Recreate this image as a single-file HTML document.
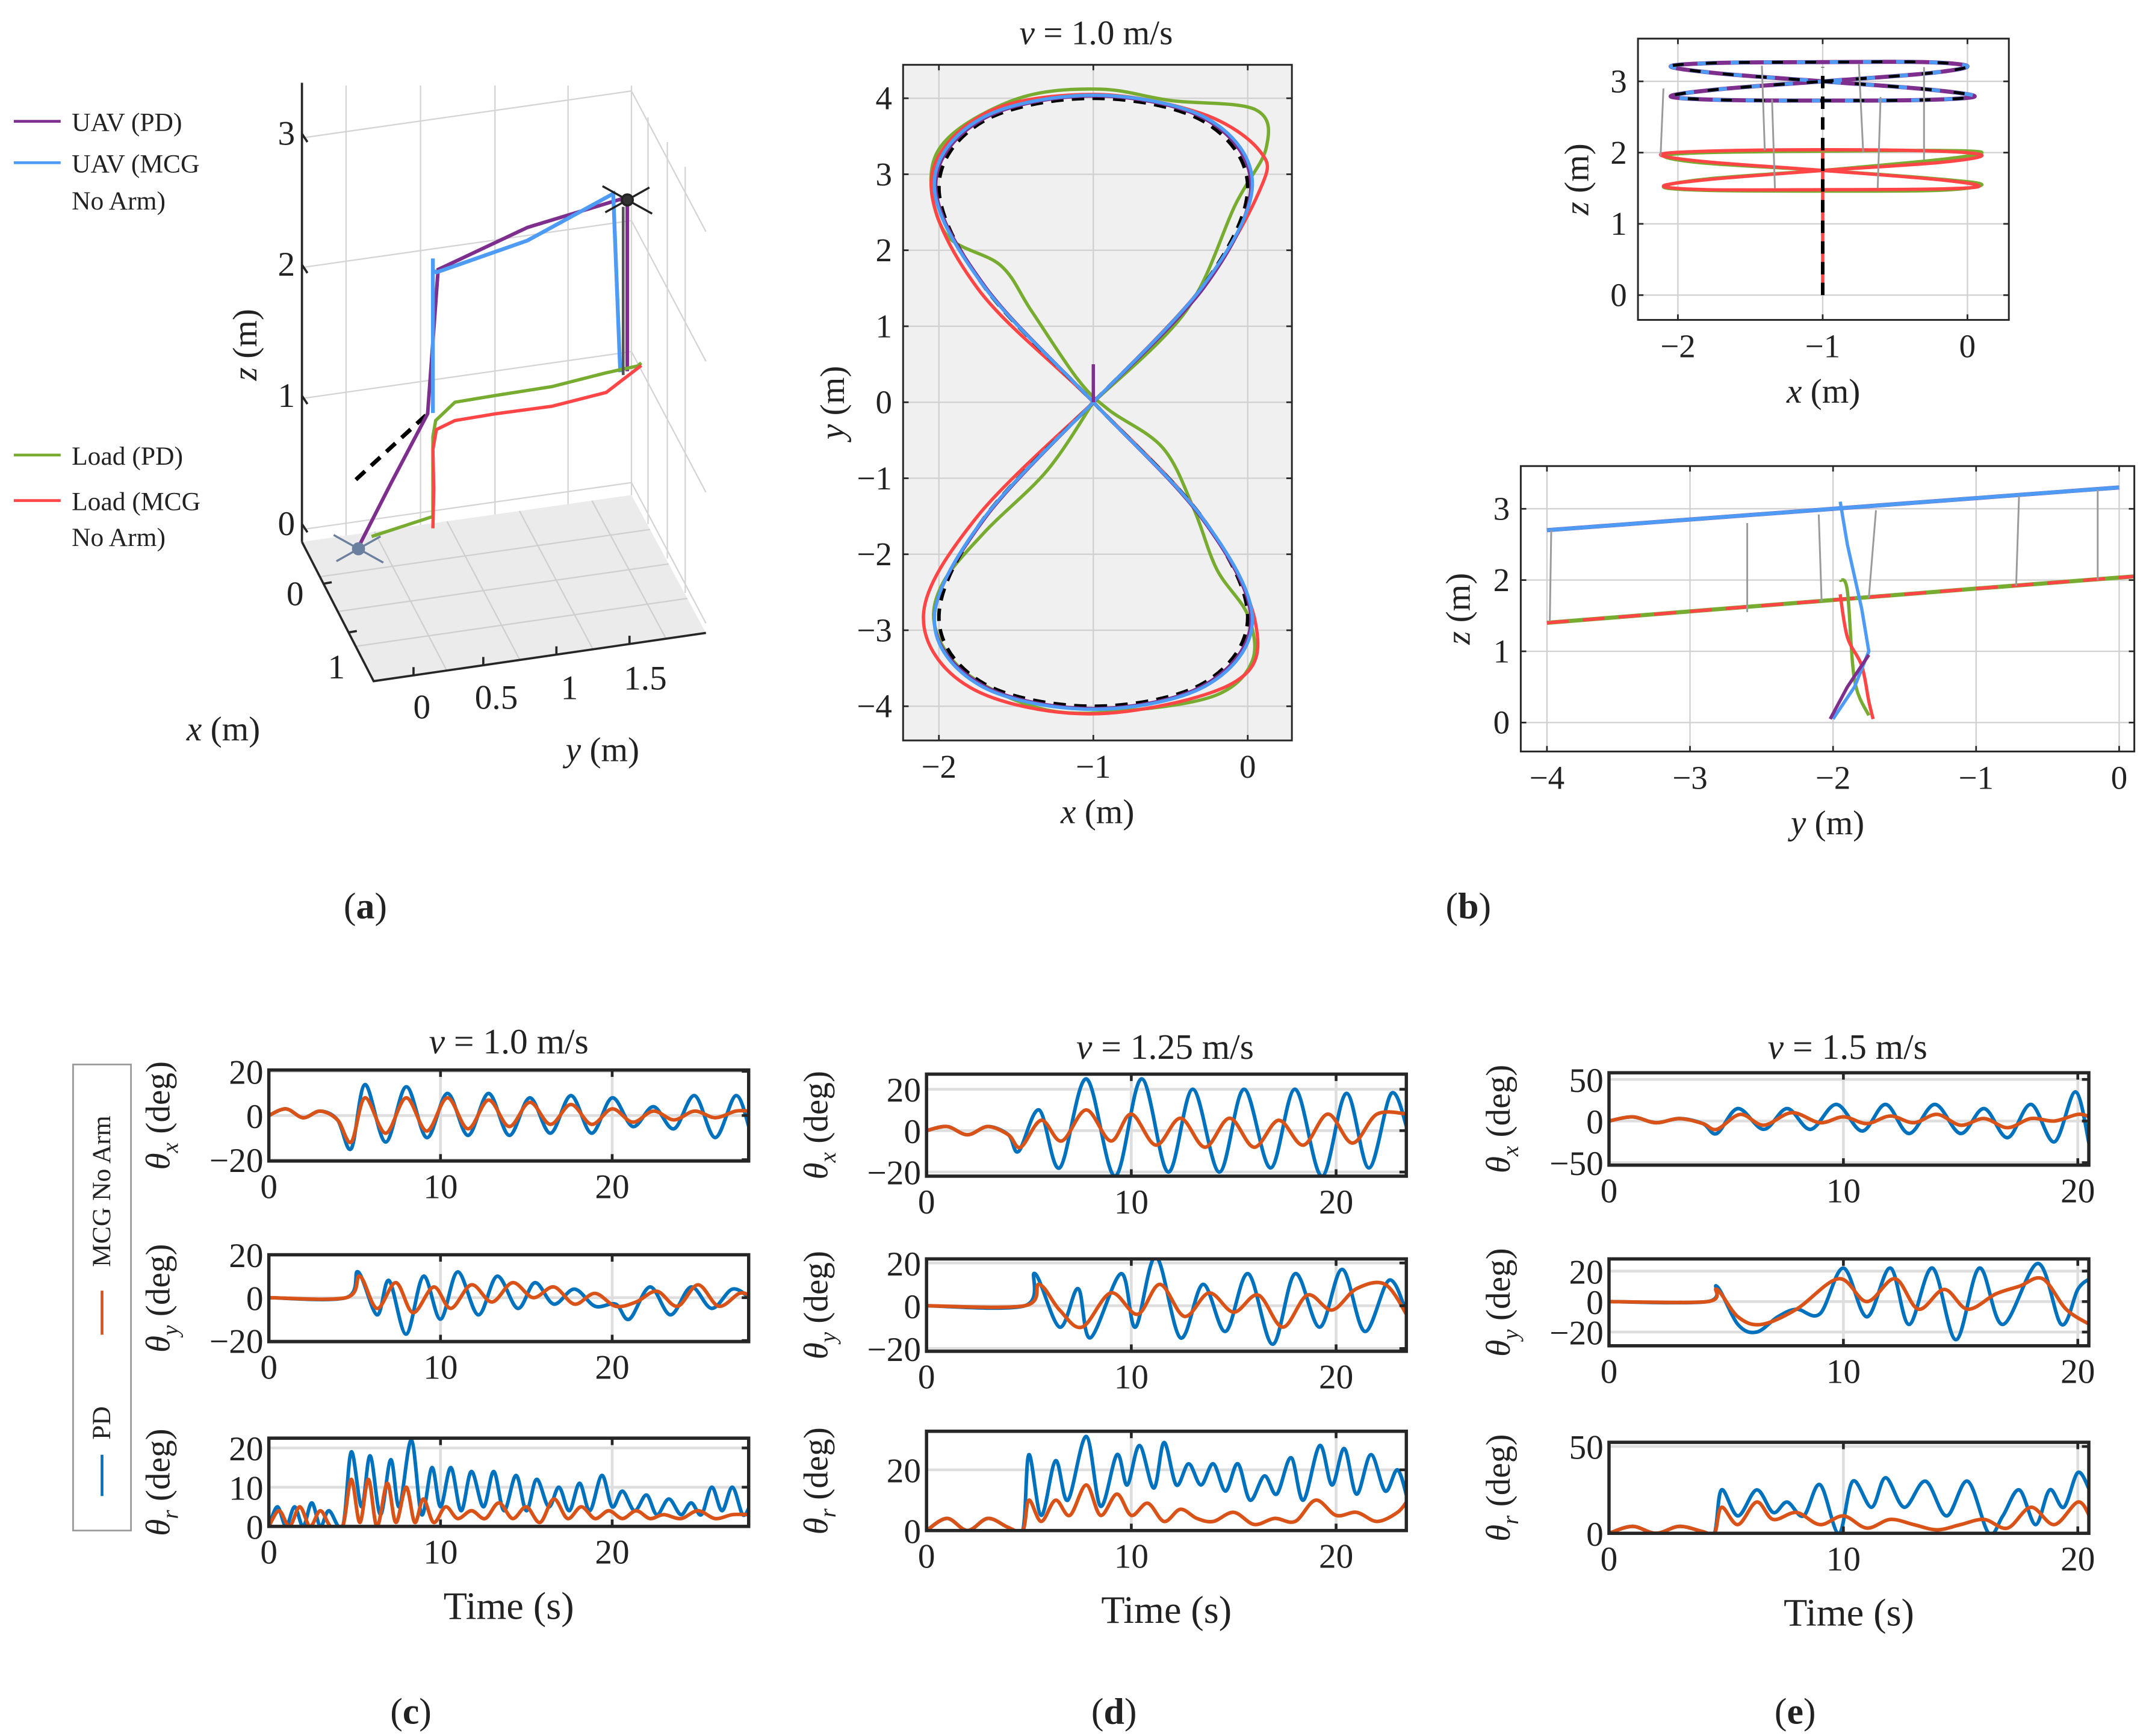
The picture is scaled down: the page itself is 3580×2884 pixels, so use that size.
<!DOCTYPE html>
<html><head><meta charset="utf-8">
<style>
html,body{margin:0;padding:0;background:#fff;}
svg{display:block;}
text{font-family:"Liberation Serif","DejaVu Serif",serif;fill:#222;}
</style></head>
<body>
<svg id="fig" xmlns="http://www.w3.org/2000/svg" width="3580" height="2884" viewBox="0 0 1563 1259" preserveAspectRatio="none">
<rect x="0" y="0" width="1563" height="1259" fill="#fff"/>
</svg>
<script>
// ---------- (b) x-y view data ----------
const refX=[-1,-0.29,0,-0.29,-1,-1.71,-2,-1.71,-1,-0.29,0,-0.29,-1,-1.71,-2,-1.71,-1];
const refY=[0,1.53,2.83,3.70,4,3.70,2.83,1.53,0,-1.53,-2.83,-3.70,-4,-3.70,-2.83,-1.53,0];
const uavPdX=[-1,-0.28,0.02,-0.27,-1,-1.72,-2.02,-1.70,-1,-0.30,0.02,-0.28,-1,-1.72,-2.03,-1.70,-1];
const uavPdY=[0,1.52,2.84,3.72,4.03,3.72,2.84,1.52,0,-1.52,-2.84,-3.72,-4.03,-3.72,-2.84,-1.52,0];
const uavMcgX=[-1,-0.29,0.03,-0.26,-1,-1.73,-2.03,-1.71,-1,-0.29,0.03,-0.27,-1,-1.73,-2.03,-1.71,-1];
const uavMcgY=[0,1.53,2.85,3.73,4.04,3.73,2.85,1.53,0,-1.53,-2.85,-3.73,-4.04,-3.73,-2.85,-1.53,0];
const loadPdX=[-1,-0.4,-0.08,0.12,0.05,-0.5,-0.95,-1.45,-1.9,-2.05,-1.95,-1.6,-1.4,-1.1,-0.9,-0.55,-0.35,-0.2,0.0,0.03,-0.2,-0.75,-1.3,-1.8,-2.02,-1.98,-1.7,-1.3,-1.0];
const loadPdY=[0,1.2,2.6,3.35,3.85,3.97,4.12,4.02,3.55,3.0,2.2,1.8,1.2,0.3,-0.1,-0.6,-1.4,-2.2,-2.8,-3.4,-3.85,-4.05,-4.05,-3.6,-3.0,-2.4,-1.7,-0.9,0];
const loadMcgX=[-1,-0.3,0.08,0.08,-0.3,-1,-1.7,-2.05,-1.75,-1,-0.3,0.05,-0.1,-1,-1.8,-2.1,-1.75,-1];
const loadMcgY=[0,1.5,2.8,3.3,3.8,4.05,3.8,2.9,1.5,0,-1.5,-2.9,-3.7,-4.1,-3.75,-2.8,-1.5,0];
const xyTicksX=[-2,-1,0];
const xyTicksY=[-4,-3,-2,-1,0,1,2,3,4];
// ---------- (b) x-z view ----------
const xzUavX=[-1,-0.29,0,-0.29,-1,-1.71,-2.05,-1.71,-1,-0.29,0.05,-0.29,-1,-1.71,-2.05,-1.71,-1];
const xzUavZ=[3.0,3.11,3.21,3.27,3.27,3.26,3.21,3.11,3.0,2.89,2.79,2.74,2.73,2.74,2.79,2.89,3.0];
const xzLoadPdX=[-1,-0.2,0.1,-0.2,-1,-1.8,-2.1,-1.8,-1,-0.2,0.1,-0.2,-1,-1.8,-2.1,-1.8,-1];
const xzLoadPdZ=[1.75,1.9,2.0,2.03,2.02,2.0,1.95,1.85,1.75,1.63,1.55,1.47,1.46,1.47,1.52,1.63,1.75];
const xzLoadMcgX=[-1,-0.2,0.1,-0.2,-1,-1.8,-2.12,-1.8,-1,-0.2,0.08,-0.2,-1,-1.8,-2.1,-1.8,-1];
const xzLoadMcgZ=[1.75,1.86,1.96,2.02,2.04,2.02,1.97,1.87,1.75,1.62,1.53,1.49,1.48,1.48,1.53,1.62,1.75];
const xzTicksX=[-2,-1,0];
const xzTicksZ=[0,1,2,3];
// ---------- (b) y-z view ----------
const yzUavY=[-4,-3,-2,-1,0];
const yzUavZ=[2.7,2.85,3.0,3.15,3.3];
const yzLoadY=[-4,-3,-2,-1,0.1];
const yzLoadZ=[1.4,1.56,1.72,1.88,2.05];
const yzBlueVY=[-1.95,-1.9,-1.8,-1.75,-1.85,-2.0];
const yzBlueVZ=[3.1,2.5,1.6,1.0,0.5,0.05];
const yzPurpleVY=[-1.75,-1.9,-2.02];
const yzPurpleVZ=[0.95,0.5,0.05];
const yzRedVY=[-1.95,-1.9,-1.8,-1.75,-1.72];
const yzRedVZ=[1.8,1.2,0.8,0.3,0.05];
const yzGreenVY=[-1.95,-1.9,-1.85,-1.75];
const yzGreenVZ=[2.0,1.85,0.6,0.1];
const yzTicksY=[-4,-3,-2,-1,0];
const yzTicksZ=[0,1,2,3];
// ---------- (c) v=1.0 ----------
const cXt_pd=[0,1,2,3,4,4.8,5.6,6.8,8,9.2,10.4,11.6,12.8,14,15.2,16.4,17.6,18.8,20,21.2,22.4,23.6,24.8,26,27.2,28];
const cXv_pd=[0,3,-1,2,-2,-15,14,-12,13,-10,10,-9,10,-9,8,-8,9,-8,8,-5,4,-6,9,-10,9,-6];
const cXt_mcg=[0,1,2,3,4,4.8,5.6,6.8,8,9.2,10.4,11.6,12.8,14,15.2,16.4,17.6,18.8,20,21.2,22.4,23.6,24.8,26,27.2,28];
const cXv_mcg=[0,3,-1,2,-2,-12,8,-8,8,-7,8,-6,7,-5,6,-4,5,-4,3,-3,2,-2,2,-1,2,2];
const cYt_pd=[0,4.5,5.2,6.3,7,8,9,10,11,12.2,13.3,14.5,15.5,16.6,17.8,19,20.2,21,22.2,23.4,24.6,25.8,27,28];
const cYv_pd=[0,0,12,-8,8,-17,10,-10,12,-8,10,-5,7,-3,4,-4,-3,-10,5,-8,5,-5,4,0];
const cYt_mcg=[0,4.5,5.3,6.3,7.4,8.4,9.6,10.6,11.8,13,14.2,15.4,16.6,17.8,19,20.2,21.4,22.6,23.8,25,26.2,27.4,28];
const cYv_mcg=[0,0,10,-5,7,-7,5,-5,6,-2,7,0,5,-3,2,-4,-2,3,-4,6,-4,2,1];
const cRt_pd=[0,0.5,1,1.5,2,2.5,3,3.5,4.3,4.8,5.4,5.9,6.5,7.1,7.6,8.3,8.9,9.5,10,10.6,11.2,11.8,12.5,13.1,13.7,14.4,15,15.6,16.3,16.9,17.5,18.1,18.7,19.4,20,20.6,21.3,22,22.6,23.3,24,24.6,25.2,25.8,26.4,27,27.6,28];
const cRv_pd=[0,5,0,5,0,6,0,4,0,19,5,18,3,17,5,22,3,15,5,15,4,14,5,14,4,13,4,12,5,10,4,11,4,13,5,9,4,8,3,7,3,6,3,10,4,10,3,5];
const cRt_mcg=[0,0.6,1.2,1.8,2.4,3,3.6,4.3,4.8,5.3,5.8,6.3,6.9,7.4,8,8.5,9,9.6,10.3,11,11.8,12.6,13.4,14.2,15,15.8,16.6,17.4,18.2,19,19.8,20.6,21.4,22.2,23,24,25,26,27,28];
const cRv_mcg=[0,4,0,5,0,4,0,0,12,1,12,0,11,1,10,1,7,1,5,2,4,2,6,2,5,1,7,2,5,2,4,2,4,2,3,2,4,2,3,3];
// ---------- (d) v=1.25 ----------
const dXt_pd=[0,1,2,3,4,4.5,5.5,6.5,7.8,9.2,10.5,11.8,13,14.3,15.5,16.8,18,19.3,20.5,21.6,22.7,23.5];
const dXv_pd=[0,2,-2,2,-2,-10,10,-18,25,-22,25,-20,20,-20,20,-18,20,-22,18,-18,18,0];
const dXt_mcg=[0,1,2,3,4,4.6,5.6,6.6,7.8,9,10,11.2,12.4,13.6,14.8,16,17.2,18.4,19.6,20.8,22,23.5];
const dXv_mcg=[0,2,-2,2,-2,-8,5,-5,10,-5,8,-7,6,-8,6,-8,5,-7,8,-6,8,8];
const dYt_pd=[0,4.8,5.3,6.5,7.4,8,9.5,10.2,11.2,12.4,13.5,14.6,15.7,16.9,18,19.2,20.3,21.4,22.6,23.5];
const dYv_pd=[0,0,15,-10,8,-15,15,-10,23,-15,10,-12,15,-18,15,-10,17,-12,12,-5];
const dYt_mcg=[0,4.8,5.5,6.5,7.6,9,10.3,11.4,12.6,13.8,15,16.2,17.4,18.6,19.8,21,22.4,23.5];
const dYv_mcg=[0,0,10,-2,-10,6,-4,10,-5,6,-3,5,-10,5,-2,8,10,-5];
const dRt_pd=[0,1,2,3,4,4.7,5,5.6,6.3,6.9,7.8,8.5,9.3,9.8,10.4,11.1,11.6,12.2,12.8,13.4,14,14.6,15.2,15.8,16.5,17.1,17.8,18.4,19.2,19.8,20.4,21,21.7,22.4,23,23.5];
const dRv_pd=[0,4,0,4,1,0,25,5,23,10,31,8,25,15,28,14,29,15,22,15,22,13,22,10,18,12,24,10,28,15,27,12,25,13,20,10];
const dRt_mcg=[0,1,2,3,4,4.7,5,5.6,6.3,7,7.8,8.5,9.3,10,10.8,11.6,12.4,13.2,14,15,16,17,18,19,20,21,22,23,23.5];
const dRv_mcg=[0,4,0,4,1,0,10,3,10,5,15,5,12,5,9,3,7,4,3,6,2,4,3,10,5,6,3,6,10];
// ---------- (e) v=1.5 ----------
const eXt_pd=[0,1,2,3,4,4.6,5.5,6.6,7.6,8.6,9.7,10.8,11.8,12.8,13.9,15,16,17,18,19,19.9,20.5];
const eXv_pd=[0,5,-2,3,-3,-15,15,-10,15,-10,20,-12,20,-15,20,-15,15,-20,20,-25,35,-30];
const eXt_mcg=[0,1,2,3,4,4.6,5.6,6.6,7.8,9,10,11,12,13,14,15,16,17,18,19,20,20.5];
const eXv_mcg=[0,5,-2,3,-3,-10,8,-5,10,-2,5,-3,6,-2,8,-5,3,-8,3,0,8,5];
const eYt_pd=[0,4.2,4.6,5.5,6.3,7.2,8,9,10,11,12,12.8,13.8,14.8,15.8,16.8,18.3,19.3,20,20.5];
const eYv_pd=[0,0,10,-15,-20,-10,-5,-8,22,-10,22,-15,22,-25,22,-15,25,-15,8,15];
const eYt_mcg=[0,4.2,4.6,5.5,6.5,8,9.8,11,12.2,13.2,14.3,15.3,16.5,17.5,18.5,19.5,20.5];
const eYv_mcg=[0,0,8,-10,-15,-5,15,0,15,-5,8,-5,5,10,15,-5,-15];
const eRt_pd=[0,1,2,3,4,4.5,4.8,5.5,6.3,7,7.6,8.3,9,9.8,10.4,11.2,11.8,12.6,13.5,14.4,15.3,16.2,16.8,17.5,18.2,18.8,19.4,20,20.5];
const eRv_pd=[0,4,0,4,1,0,25,10,25,12,18,10,28,0,30,15,32,15,30,10,30,0,10,25,5,25,15,35,25];
const eRt_mcg=[0,1,2,3,4,4.5,4.8,5.5,6.3,7,8,9,10,11,12,13,14,15,16,17,18,19,20,20.5];
const eRv_mcg=[0,4,0,4,1,0,15,5,18,8,12,5,10,3,8,5,2,5,8,3,15,5,18,10];
// ---------- (a) 3D data (metres) ----------
const aUavPdX=[0.2,0.1,0,0,0,0,0,0];
const aUavPdY=[-0.36,-0.15,0.08,0.14,0.65,1.18,1.22,1.22];
const aUavPdZ=[0.05,0.45,0.88,1.97,2.2,2.32,2.27,1.0];
const aUavMcgX=[0,0,0,0,0,0,0];
const aUavMcgY=[0.11,0.11,0.11,0.13,0.65,1.14,1.18];
const aUavMcgZ=[0.88,2.06,1.97,1.95,2.1,2.37,1.0];
const aRefX=[0,0];
const aRefY=[-0.33,0.08];
const aRefZ=[0.45,0.88];
const aLoadPdX=[0,0,0,0,0,0,0,0,0,0];
const aLoadPdY=[-0.24,0.11,0.11,0.126,0.236,0.47,0.79,1.10,1.28,1.3];
const aLoadPdZ=[0,0.09,0.7,0.82,0.94,0.95,0.96,1.01,1.03,1.05];
const aLoadMcgX=[0,0,0,0,0,0,0,0,0];
const aLoadMcgY=[0.11,0.115,0.11,0.13,0.236,0.47,0.79,1.10,1.30];
const aLoadMcgZ=[0,0.3,0.6,0.75,0.80,0.81,0.81,0.86,1.03];

const NS='http://www.w3.org/2000/svg';
const svg=document.getElementById('fig');
function mk(tag,attrs,parent){const e=document.createElementNS(NS,tag);for(const k in attrs)e.setAttribute(k,attrs[k]);(parent||svg).appendChild(e);return e;}
function f(n){return (+n).toFixed(2);}
function cr(pts){
  let d='M'+f(pts[0][0])+','+f(pts[0][1]);
  for(let i=0;i<pts.length-1;i++){
    const p0=pts[Math.max(i-1,0)],p1=pts[i],p2=pts[i+1],p3=pts[Math.min(i+2,pts.length-1)];
    d+='C'+f(p1[0]+(p2[0]-p0[0])/6)+','+f(p1[1]+(p2[1]-p0[1])/6)+' '+f(p2[0]-(p3[0]-p1[0])/6)+','+f(p2[1]-(p3[1]-p1[1])/6)+' '+f(p2[0])+','+f(p2[1]);
  }
  return d;
}
function poly(pts){return 'M'+pts.map(p=>f(p[0])+','+f(p[1])).join('L');}
function txt(s,x,y,size,parent,anchor,extra){
  const t=mk('text',{x:x,y:y,'font-size':size,'text-anchor':anchor||'middle'},parent);
  t.innerHTML=s;
  if(extra){for(const k in extra)t.setAttribute(k,extra[k]);}
  return t;
}
let clipId=0;
function addClip(L,T,R,B){const id='clip'+(clipId++);const cp=mk('clipPath',{id:id});mk('rect',{x:L,y:T,width:R-L,height:B-T},cp);return 'url(#'+id+')';}

// ================= Panel (a) =================
const ga=mk('g',{});


const grid3d=mk('g',{stroke:'#d4d4d4','stroke-width':1,fill:'none'},ga);


const floor=mk('path',{d:'M219,393 L458,359 L512,459 L271,494 Z',fill:'#ebebeb',stroke:'none'},ga);


[251,305,359,412,458].forEach(x=>{mk('line',{x1:x,y1:62,x2:x,y2:393-(x-219)*34/239},grid3d);});
[[100,66],[194,160],[289,255],[384,350]].forEach(p=>{mk('line',{x1:219,y1:p[0],x2:458,y2:p[1]},grid3d);});
[[66,168],[160,262],[255,357],[350,452]].forEach(p=>{mk('line',{x1:458,y1:p[0],x2:512,y2:p[1]},grid3d);});
[470,484,497].forEach((x,i)=>{mk('line',{x1:x,y1:85+i*18,x2:x,y2:380+i*25},grid3d);});
const fg=mk('g',{stroke:'#cfcfcf','stroke-width':1},ga);
[0.25,0.5,0.75].forEach(s=>{mk('line',{x1:219+52*s,y1:393+101*s,x2:458+54*s,y2:359+100*s},fg);});
[0.22,0.44,0.66,0.88].forEach(s=>{mk('line',{x1:219+239*s,y1:393-34*s,x2:271+241*s,y2:494-35*s},fg);});
const ax3=mk('g',{stroke:'#262626','stroke-width':1.6,fill:'none'},ga);


mk('line',{x1:219,y1:60,x2:219,y2:393},ax3);
mk('polyline',{points:'219,393 271,494 512,459'},ax3);
[97,192,287,380].forEach(y=>{mk('line',{x1:219,y1:y,x2:223,y2:y+6},ax3);});
[0.3,0.65].forEach(s=>{mk('line',{x1:219+52*s,y1:393+101*s,x2:225+52*s,y2:392+101*s},ax3);});
[0.12,0.33,0.55,0.77].forEach(s=>{mk('line',{x1:271+241*s,y1:494-35*s,x2:271+241*s,y2:488-35*s},ax3);});
const zt=[['3',97],['2',192],['1',287],['0',380]];
zt.forEach(z=>{const t=txt(z[0],214,z[1]+8,25,ga,'end');});
[['0',214,439],['1',244,492]].forEach(p=>{const t=txt(p[0],p[1],p[2],25,ga);});
[['0',306,521],['0.5',360,514],['1',413,507],['1.5',468,500]].forEach(p=>{const t=txt(p[0],p[1],p[2],25,ga);});
const azl=txt('<tspan font-style="italic">z</tspan> (m)',186,250,25,ga,'middle',{transform:'rotate(-90 186 250)'});


const axl=txt('<tspan font-style="italic">x</tspan>  (m)',162,537,25,ga);


const ayl=txt('<tspan font-style="italic">y</tspan>  (m)',437,552,25,ga);


function P3(x,y,z){return [300+26*x+127*y,385+57*x-17*y-95*z];}
function path3(X,Y,Z){return poly(X.map((v,i)=>P3(v,Y[i],Z[i])));}
const a1=mk('path',{d:path3(aRefX,aRefY,aRefZ),stroke:'#000','stroke-width':3,fill:'none','stroke-dasharray':'9,6'},ga);


const a2=mk('path',{d:path3(aUavPdX,aUavPdY,aUavPdZ),stroke:'#7E2F8E','stroke-width':2.6,fill:'none'},ga);


const a3=mk('path',{d:path3(aUavMcgX,aUavMcgY,aUavMcgZ),stroke:'#4D9BF5','stroke-width':2.8,fill:'none'},ga);


const a4=mk('path',{d:path3(aLoadPdX,aLoadPdY,aLoadPdZ),stroke:'#77AC30','stroke-width':2.4,fill:'none'},ga);


const a5=mk('path',{d:path3(aLoadMcgX,aLoadMcgY,aLoadMcgZ),stroke:'#FF4545','stroke-width':2.4,fill:'none'},ga);


const tether=mk('line',{x1:452,y1:150,x2:452,y2:272,stroke:'#555','stroke-width':2},ga);


// drone icons
[[455,145],[260,398]].forEach((c,i)=>{
  const g=mk('g',{stroke:i?'#6b7f9e':'#222','stroke-width':1.5},ga);
  
  
  mk('line',{x1:c[0]-18,y1:c[1]-10,x2:c[0]+18,y2:c[1]+10},g);
  mk('line',{x1:c[0]-16,y1:c[1]+9,x2:c[0]+16,y2:c[1]-9},g);
  mk('circle',{cx:c[0],cy:c[1],r:4,fill:i?'#6b7f9e':'#333'},g);
});
// legend
const legA=[['#7E2F8E','UAV (PD)',88],['#4D9BF5','UAV (MCG',118],['#77AC30','Load (PD)',330],['#FF4545','Load (MCG',363]];
legA.forEach(l=>{
  const g=mk('g',{},ga);
  
  
  mk('line',{x1:10,y1:l[2],x2:44,y2:l[2],stroke:l[0],'stroke-width':2},g);
  txt(l[1],52,l[2]+7,19,g,'start');
});
const la1=txt('No Arm)',52,152,19,ga,'start');


const la2=txt('No Arm)',52,396,19,ga,'start');



// ================= xy-style plot helper =================
function xyPlot(name,box,xr,yr,xt,yt,bg,series,xlab,ylab,ylabX){
  const [L,T,R,B]=box;
  const g=mk('g',{});
  
  
  const sx=v=>L+(v-xr[0])/(xr[1]-xr[0])*(R-L);
  const sy=v=>B-(v-yr[0])/(yr[1]-yr[0])*(B-T);
  mk('rect',{x:L,y:T,width:R-L,height:B-T,fill:bg},g);
  const gr=mk('g',{stroke:'#d0d0d0','stroke-width':1},g);
  
  
  xt.forEach(v=>mk('line',{x1:sx(v),y1:T,x2:sx(v),y2:B},gr));
  yt.forEach(v=>mk('line',{x1:L,y1:sy(v),x2:R,y2:sy(v)},gr));
  const clip=addClip(L,T,R,B);
  const sg=mk('g',{'clip-path':clip},g);
  series.forEach(s=>{
    const pts=s.x.map((v,i)=>[sx(v),sy(s.y[i])]);
    const p=mk('path',{d:s.smooth?cr(pts):poly(pts),stroke:s.c,'stroke-width':s.w||2.4,fill:'none'},sg);
    if(s.dash)p.setAttribute('stroke-dasharray',s.dash);
    
    
  });
  const fr=mk('rect',{x:L,y:T,width:R-L,height:B-T,fill:'none',stroke:'#262626','stroke-width':1.3},g);
  
  
  const tk=mk('g',{stroke:'#262626','stroke-width':1.2},g);
  xt.forEach(v=>{mk('line',{x1:sx(v),y1:B,x2:sx(v),y2:B-4},tk);mk('line',{x1:sx(v),y1:T,x2:sx(v),y2:T+4},tk);});
  yt.forEach(v=>{mk('line',{x1:L,y1:sy(v),x2:L+4,y2:sy(v)},tk);mk('line',{x1:R,y1:sy(v),x2:R-4,y2:sy(v)},tk);});
  xt.forEach(v=>{const t=txt(String(v).replace('-','\u2212'),sx(v),B+27,24,g);});
  yt.forEach(v=>{const t=txt(String(v).replace('-','\u2212'),L-8,sy(v)+8,24,g,'end');});
  const xl=txt('<tspan font-style="italic">'+xlab+'</tspan> (m)',(L+R)/2,B+60,25,g);
  
  
  const cy=(T+B)/2;
  const yl=txt('<tspan font-style="italic">'+ylab+'</tspan> (m)',ylabX,cy,25,g,'middle',{transform:'rotate(-90 '+ylabX+' '+cy+')'});
  
  
  return {g:g,sx:sx,sy:sy};
}
// Panel (b) main
const pb=xyPlot('xy-trajectory-plot',[655,47,937,537],[-2.232,0.286],[-4.45,4.44],xyTicksX,xyTicksY,'#f0f0f0',[
 {x:loadPdX,y:loadPdY,c:'#77AC30',n:'load-pd-path',smooth:1},
 {x:loadMcgX,y:loadMcgY,c:'#FF4545',n:'load-mcg-path',smooth:1},
 {x:refX,y:refY,c:'#000',n:'reference-path',smooth:1,dash:'9,6',w:2.6},
 {x:uavPdX,y:uavPdY,c:'#7E2F8E',n:'uav-pd-path',smooth:1},
 {x:uavMcgX,y:uavMcgY,c:'#4D9BF5',n:'uav-mcg-path',smooth:1}
],'x','y',612);
const spike=mk('line',{x1:pb.sx(-1),y1:pb.sy(0),x2:pb.sx(-1),y2:pb.sy(0.5),stroke:'#7E2F8E','stroke-width':2.4},pb.g);


const tb=txt('<tspan font-style="italic">v</tspan> = 1.0 m/s',795,32,25,pb.g);



// x-z view
const pxz=xyPlot('xz-view-plot',[1188,28,1457,232],[-2.276,0.286],[-0.348,3.6],xzTicksX,xzTicksZ,'#fff',[
 {x:xzLoadPdX,y:xzLoadPdZ,c:'#77AC30',n:'load-pd-xz',smooth:1},
 {x:xzLoadMcgX,y:xzLoadMcgZ,c:'#FF4545',n:'load-mcg-xz',smooth:1},
 {x:xzUavX,y:xzUavZ,c:'#7E2F8E',n:'uav-pd-xz',smooth:1,w:3},
 {x:xzUavX,y:xzUavZ,c:'#4D9BF5',n:'uav-mcg-xz',smooth:1,w:2.6,dash:'14,10'},
 {x:xzUavX,y:xzUavZ,c:'#000',n:'reference-xz',smooth:1,w:2.2,dash:'8,16'},
 {x:[-1,-1],y:[0,2.0],c:'#FF4545',n:'load-vertical-xz'},
 {x:[-1,-1],y:[0,3.2],c:'#000',n:'reference-vertical-xz',dash:'9,6',w:2.6}
],'x','z',1152);
[[-2.1,2.9,-2.12,1.95],[-1.42,3.22,-1.40,2.03],[-1.35,2.75,-1.33,1.5],[-0.6,2.78,-0.62,1.5],[-0.3,3.2,-0.3,1.9],[-0.75,3.24,-0.72,2.0]].forEach(t=>{
  const l=mk('line',{x1:pxz.sx(t[0]),y1:pxz.sy(t[1]),x2:pxz.sx(t[2]),y2:pxz.sy(t[3]),stroke:'#9a9a9a','stroke-width':1.3},pxz.g);
  
  
});
// y-z view
const pyz=xyPlot('yz-view-plot',[1103,338,1548,545],[-4.183,0.106],[-0.406,3.6],yzTicksY,yzTicksZ,'#fff',[
 {x:yzLoadY,y:yzLoadZ,c:'#77AC30',n:'load-pd-yz',w:3},
 {x:yzLoadY,y:yzLoadZ,c:'#FF4545',n:'load-mcg-yz',w:2.4,dash:'16,10'},
 {x:yzUavY,y:yzUavZ,c:'#7E2F8E',n:'uav-pd-yz',w:3},
 {x:yzUavY,y:yzUavZ,c:'#4D9BF5',n:'uav-mcg-yz',w:2.8},
 {x:yzGreenVY,y:yzGreenVZ,c:'#77AC30',n:'load-pd-vertical-yz',smooth:1},
 {x:yzRedVY,y:yzRedVZ,c:'#FF4545',n:'load-mcg-vertical-yz',smooth:1},
 {x:yzBlueVY,y:yzBlueVZ,c:'#4D9BF5',n:'uav-mcg-vertical-yz'},
 {x:yzPurpleVY,y:yzPurpleVZ,c:'#7E2F8E',n:'uav-pd-vertical-yz'}
],'y','z',1066);
[[-3.97,2.7,-3.98,1.42],[-2.6,2.8,-2.6,1.55],[-2.1,2.92,-2.08,1.7],[-1.7,2.98,-1.75,1.75],[-0.7,3.18,-0.72,1.92],[-0.15,3.27,-0.15,2.0]].forEach(t=>{
  const l=mk('line',{x1:pyz.sx(t[0]),y1:pyz.sy(t[1]),x2:pyz.sx(t[2]),y2:pyz.sy(t[3]),stroke:'#9a9a9a','stroke-width':1.3},pyz.g);
  
  
});

// ================= time series helper =================
function ts(name,box,xmax,yr,yt,xt,series,sub,showTime){
  const [L,T,R,B]=box;
  const g=mk('g',{});
  
  
  const sx=v=>L+v/xmax*(R-L);
  const sy=v=>B-(v-yr[0])/(yr[1]-yr[0])*(B-T);
  mk('rect',{x:L,y:T,width:R-L,height:B-T,fill:'#fff'},g);
  const gr=mk('g',{stroke:'#dedede','stroke-width':2},g);
  
  
  xt.forEach(v=>{if(v>0)mk('line',{x1:sx(v),y1:T,x2:sx(v),y2:B},gr);});
  yt.forEach(v=>mk('line',{x1:L,y1:sy(v),x2:R,y2:sy(v)},gr));
  const clip=addClip(L,T,R,B);
  const sg=mk('g',{'clip-path':clip},g);
  series.forEach(s=>{
    const pts=s.t.map((v,i)=>[sx(v),sy(s.v[i])]);
    const p=mk('path',{d:cr(pts),stroke:s.c,'stroke-width':2.6,fill:'none','stroke-linejoin':'round'},sg);
    
    
  });
  const fr=mk('rect',{x:L,y:T,width:R-L,height:B-T,fill:'none',stroke:'#262626','stroke-width':2.4},g);
  
  
  const tk=mk('g',{stroke:'#262626','stroke-width':2},g);
  xt.forEach(v=>{mk('line',{x1:sx(v),y1:B,x2:sx(v),y2:B-5},tk);mk('line',{x1:sx(v),y1:T,x2:sx(v),y2:T+5},tk);});
  yt.forEach(v=>{mk('line',{x1:R,y1:sy(v),x2:R-5,y2:sy(v)},tk);});
  xt.forEach(v=>{const t=txt(String(v),sx(v),B+27,25,g);});
  yt.forEach(v=>{const t=txt(String(v).replace('-','\u2212'),L-4,sy(v)+9,25,g,'end');});
  const lx=L-72,cy=(T+B)/2;
  const yl=txt('<tspan font-style="italic">θ</tspan><tspan font-style="italic" font-size="17" dy="6">'+sub+'</tspan><tspan dy="-6">  (deg)</tspan>',lx,cy,25,g,'middle',{transform:'rotate(-90 '+lx+' '+cy+')'});
  
  
  if(showTime){const tt=txt('Time (s)',(L+R)/2,B+67,28,g);}
  return g;
}
const BL='#0072BD',OR='#D95319';
// (c)
ts('c-theta-x-plot',[195,776,543,842],27.95,[-20.6,20.6],[-20,0,20],[0,10,20],[{t:cXt_pd,v:cXv_pd,c:BL,n:'pd-theta-x'},{t:cXt_mcg,v:cXv_mcg,c:OR,n:'mcg-theta-x'}],'x',0);
ts('c-theta-y-plot',[195,910,543,973],27.95,[-20.5,20],[-20,0,20],[0,10,20],[{t:cYt_pd,v:cYv_pd,c:BL,n:'pd-theta-y'},{t:cYt_mcg,v:cYv_mcg,c:OR,n:'mcg-theta-y'}],'y',0);
ts('c-theta-r-plot',[195,1043,543,1107],27.95,[0,22.5],[0,10,20],[0,10,20],[{t:cRt_pd,v:cRv_pd,c:BL,n:'pd-theta-r'},{t:cRt_mcg,v:cRv_mcg,c:OR,n:'mcg-theta-r'}],'r',1);
// (d)
ts('d-theta-x-plot',[672,779,1020,853],23.43,[-22,27.3],[-20,0,20],[0,10,20],[{t:dXt_pd,v:dXv_pd,c:BL,n:'pd-theta-x'},{t:dXt_mcg,v:dXv_mcg,c:OR,n:'mcg-theta-x'}],'x',0);
ts('d-theta-y-plot',[672,913,1020,980],23.43,[-21.3,21.9],[-20,0,20],[0,10,20],[{t:dYt_pd,v:dYv_pd,c:BL,n:'pd-theta-y'},{t:dYt_mcg,v:dYv_mcg,c:OR,n:'mcg-theta-y'}],'y',0);
ts('d-theta-r-plot',[672,1038,1020,1110],23.43,[0,32.7],[0,20],[0,10,20],[{t:dRt_pd,v:dRv_pd,c:BL,n:'pd-theta-r'},{t:dRt_mcg,v:dRv_mcg,c:OR,n:'mcg-theta-r'}],'r',1);
// (e)
ts('e-theta-x-plot',[1167,778,1515,845],20.47,[-53,58],[-50,0,50],[0,10,20],[{t:eXt_pd,v:eXv_pd,c:BL,n:'pd-theta-x'},{t:eXt_mcg,v:eXv_mcg,c:OR,n:'mcg-theta-x'}],'x',0);
ts('e-theta-y-plot',[1167,913,1515,976],20.47,[-29,28],[-20,0,20],[0,10,20],[{t:eYt_pd,v:eYv_pd,c:BL,n:'pd-theta-y'},{t:eYt_mcg,v:eYv_mcg,c:OR,n:'mcg-theta-y'}],'y',0);
ts('e-theta-r-plot',[1167,1046,1515,1112],20.47,[0,52.4],[0,50],[0,10,20],[{t:eRt_pd,v:eRv_pd,c:BL,n:'pd-theta-r'},{t:eRt_mcg,v:eRv_mcg,c:OR,n:'mcg-theta-r'}],'r',1);
// titles
[['1.0',369,764],['1.25',845,768],['1.5',1340,768]].forEach(p=>{
  const t=txt('<tspan font-style="italic">v</tspan> = '+p[0]+' m/s',p[1],p[2],26);
  
  
});
// legend box (c)
const lg=mk('g',{});


mk('rect',{x:53,y:772,width:42,height:338,fill:'#fff',stroke:'#999','stroke-width':1.2},lg);
mk('line',{x1:74,y1:936,x2:74,y2:968,stroke:OR,'stroke-width':2},lg);
mk('line',{x1:74,y1:1055,x2:74,y2:1085,stroke:BL,'stroke-width':2},lg);
const lt1=txt('MCG No Arm',80,864,19,lg,'middle',{transform:'rotate(-90 80 864)'});


const lt2=txt('PD',80,1032,19,lg,'middle',{transform:'rotate(-90 80 1032)'});


// panel labels
[['(a)',265,666],['(b)',1065,666],['(c)',298,1250],['(d)',808,1250],['(e)',1302,1250]].forEach(p=>{
  const t=txt('(<tspan font-weight="bold">'+p[0].slice(1,2)+'</tspan>)',p[1],p[2],27);
  
  
});
</script>
</body></html>
